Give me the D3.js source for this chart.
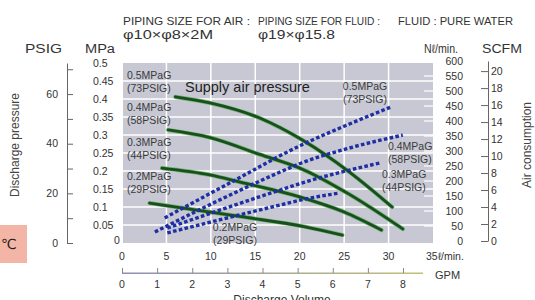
<!DOCTYPE html>
<html>
<head>
<meta charset="utf-8">
<script src="https://cdn.jsdelivr.net/npm/d3@7"></script>
<style>
  body { margin: 0; background: #fff; }
  svg { display: block; font-family: "Liberation Sans", Arial, sans-serif; }
</style>
</head>
<body>
<div id="chart"></div>
<script>
// supply air pressures (one green + one blue curve each)
let supplyMpa = ["0.5MPaG", "0.4MPaG", "0.3MPaG", "0.2MPaG"];
let supplyPsig = ["(73PSIG)", "(58PSIG)", "(44PSIG)", "(29PSIG)"];

// discharge pressure [flow l/min, MPa]
let discharge05 = [[6.0, 0.406], [9.9, 0.389], [15.5, 0.347], [20.3, 0.286], [25.6, 0.197], [30.4, 0.100]];
let discharge04 = [[5.2, 0.314], [9.9, 0.293], [15.5, 0.246], [20.3, 0.205], [25.6, 0.135], [31.6, 0.039]];
let discharge03 = [[4.5, 0.208], [9.9, 0.189], [13.3, 0.169], [20.0, 0.128], [25.0, 0.086], [29.2, 0.036]];
let discharge02 = [[3.1, 0.111], [8.8, 0.090], [14.0, 0.071], [20.6, 0.045], [24.8, 0.022]];

// air consumption [flow l/min, Nl/min]
let air05 = [[4.8, 77], [12.1, 193], [20.2, 320], [25.6, 390], [30.3, 447]];
let air04 = [[3.7, 30], [11.0, 137], [17.8, 230], [20.2, 260], [25.6, 310], [31.6, 353]];
let air03 = [[5.1, 43], [17.8, 170], [20.2, 193], [29.0, 260]];
let air02 = [[5.1, 27], [17.8, 120], [20.2, 137], [24.5, 160]];

let flowTicks = [0, 5, 10, 15, 20, 25, 30];
let gpmTicks = [0, 1, 2, 3, 4, 5, 6, 7, 8];
let psigTicks = [0, 10, 20, 30, 40, 50, 60, 70];
let psigLabels = [0, 20, 40, 60];
let scfmTicks = [0, 2, 4, 6, 8, 10, 12, 14, 16, 18, 20];
let nlTicks = d3.range(0, 601, 50);

let width = 535;
let height = 300;
let bgColor = "#c7c8d3";
let textColor = "#333";

let svg = d3.select("#chart")
    .append("svg")
    .attr("width", width)
    .attr("height", height);

// scales
let xScale = d3.scaleLinear().domain([0, 35]).range([122, 433]);
let yScale = d3.scaleLinear().domain([0, 0.5]).range([243, 63]);
let nlScale = d3.scaleLinear().domain([0, 600]).range([241, 61]);
let psigScale = d3.scaleLinear().domain([0, 0.5 * 145.04]).range([243, 63]);
let scfmScale = d3.scaleLinear().domain([0, 600 / 28.317]).range([241, 61]);
let gpmScale = d3.scaleLinear().domain([0, 8]).range([122, 403]);

// header texts
function headText(str, x, y, size, len) {
    svg.append("text")
        .attr("x", x).attr("y", y)
        .attr("font-size", size)
        .attr("fill", textColor)
        .attr("textLength", len)
        .attr("lengthAdjust", "spacingAndGlyphs")
        .text(str);
}
headText("PIPING SIZE FOR AIR :", 123, 25, 11, 127);
headText("PIPING SIZE FOR FLUID :", 258, 25, 11, 122);
headText("FLUID : PURE WATER", 398, 25, 11, 115);
headText("φ10×φ8×2M", 123, 39, 13, 90);
headText("φ19×φ15.8", 258, 39, 13, 77);
headText("PSIG", 25, 53, 12, 37);
headText("MPa", 85, 53, 12, 30);
headText("Nℓ/min.", 424, 53, 12, 34);
headText("SCFM", 482, 53, 12, 40);

// pink °C box
svg.append("rect")
    .attr("x", 0).attr("y", 225)
    .attr("width", 27).attr("height", 38)
    .attr("fill", "#f3b5a5");
svg.append("text")
    .attr("x", 1).attr("y", 249)
    .attr("font-size", 14)
    .attr("font-family", "'DejaVu Sans', sans-serif")
    .attr("fill", "#2a2020")
    .text("℃");

// plot background
svg.append("rect")
    .attr("x", xScale(0) + 1).attr("y", yScale(0.5))
    .attr("width", xScale(35) - xScale(0) - 1)
    .attr("height", yScale(0) - yScale(0.5))
    .attr("fill", bgColor);

// grid
svg.append("g").selectAll("line")
    .data(flowTicks.slice(1))
    .enter().append("line")
    .attr("x1", d => xScale(d)).attr("x2", d => xScale(d))
    .attr("y1", yScale(0.5)).attr("y2", yScale(0))
    .attr("stroke", "#fff").attr("stroke-width", 1.5);

svg.append("g").selectAll("line")
    .data(yScale.ticks(10).filter(d => d > 0 && d < 0.5))
    .enter().append("line")
    .attr("x1", xScale(0) + 1).attr("x2", xScale(35))
    .attr("y1", d => yScale(d)).attr("y2", d => yScale(d))
    .attr("stroke", "#fff").attr("stroke-width", 1.3);

// short inner ticks for Nl/min on right edge
svg.append("g").selectAll("line")
    .data(nlTicks.filter(d => d > 0 && d < 600))
    .enter().append("line")
    .attr("x1", xScale(35) - 9).attr("x2", xScale(35))
    .attr("y1", d => nlScale(d)).attr("y2", d => nlScale(d))
    .attr("stroke", "#fff").attr("stroke-width", 1.2);

// MPa labels
svg.append("g").selectAll("text")
    .data(yScale.ticks(10).filter(d => d > 0))
    .enter().append("text")
    .attr("x", 93).attr("y", d => yScale(d))
    .attr("dy", "0.35em")
    .attr("font-size", 10.5)
    .attr("fill", textColor)
    .text(d => +d.toFixed(2));
svg.append("text")
    .attr("x", 117).attr("y", yScale(0) + 1)
    .attr("text-anchor", "middle")
    .attr("font-size", 10.5)
    .attr("fill", textColor)
    .text("0");

// PSIG axis
let psigAxis = d3.axisRight(psigScale)
    .tickValues(psigTicks)
    .tickSize(6)
    .tickSizeOuter(0)
    .tickFormat("");
let psigG = svg.append("g")
    .attr("transform", "translate(67,0)")
    .call(psigAxis);
psigG.selectAll("path, line").attr("stroke", "#666");
svg.append("g").selectAll("text")
    .data(psigLabels)
    .enter().append("text")
    .attr("x", 58).attr("y", d => psigScale(d))
    .attr("dy", "0.35em")
    .attr("text-anchor", "end")
    .attr("font-size", 10.5)
    .attr("fill", textColor)
    .text(d => d);

// Nl/min labels
svg.append("g").selectAll("text")
    .data(nlTicks)
    .enter().append("text")
    .attr("x", 463).attr("y", d => nlScale(d))
    .attr("dy", "0.35em")
    .attr("text-anchor", "end")
    .attr("font-size", 10.5)
    .attr("fill", textColor)
    .text(d => d);

// SCFM axis
let scfmAxis = d3.axisLeft(scfmScale)
    .tickValues(scfmTicks)
    .tickSize(7)
    .tickSizeOuter(0)
    .tickFormat("");
let scfmG = svg.append("g")
    .attr("transform", "translate(488,0)")
    .call(scfmAxis);
scfmG.selectAll("path, line").attr("stroke", "#666");
svg.append("g").selectAll("text")
    .data(scfmTicks)
    .enter().append("text")
    .attr("x", 491).attr("y", d => scfmScale(d))
    .attr("dy", "0.35em")
    .attr("font-size", 10.5)
    .attr("fill", textColor)
    .text(d => d);

// rotated titles
svg.append("text")
    .attr("transform", "translate(19,145) rotate(-90)")
    .attr("text-anchor", "middle")
    .attr("font-size", 12)
    .attr("fill", "#444")
    .text("Discharge pressure");
svg.append("text")
    .attr("transform", "translate(531,145) rotate(-90)")
    .attr("text-anchor", "middle")
    .attr("font-size", 12)
    .attr("fill", "#444")
    .text("Air consumption");

// x axis labels (l/min)
svg.append("g").selectAll("text")
    .data(flowTicks)
    .enter().append("text")
    .attr("x", d => xScale(d)).attr("y", 256)
    .attr("dy", "0.35em")
    .attr("text-anchor", "middle")
    .attr("font-size", 10.5)
    .attr("fill", textColor)
    .text(d => d);
svg.append("text")
    .attr("x", xScale(35) - 7).attr("y", 256)
    .attr("dy", "0.35em")
    .attr("font-size", 10.5)
    .attr("fill", textColor)
    .text("35ℓ/min.");

// GPM axis
let grad = svg.append("defs").append("linearGradient")
    .attr("id", "gpmGrad");
grad.append("stop").attr("offset", "0%").attr("stop-color", "#8d90b2");
grad.append("stop").attr("offset", "100%").attr("stop-color", "#c2c07a");
svg.append("rect")
    .attr("x", gpmScale(0)).attr("y", 272.5)
    .attr("width", 423 - gpmScale(0)).attr("height", 1.5)
    .attr("fill", "url(#gpmGrad)");
let gpmAxis = d3.axisTop(gpmScale)
    .tickValues(gpmTicks)
    .tickSize(5)
    .tickSizeOuter(0)
    .tickFormat("");
let gpmG = svg.append("g")
    .attr("transform", "translate(0,273)")
    .call(gpmAxis);
gpmG.select(".domain").remove();
gpmG.selectAll("line").attr("stroke", "#888");
svg.append("g").selectAll("text")
    .data(gpmTicks)
    .enter().append("text")
    .attr("x", d => gpmScale(d)).attr("y", 284)
    .attr("dy", "0.35em")
    .attr("text-anchor", "middle")
    .attr("font-size", 10.5)
    .attr("fill", textColor)
    .text(d => d);
svg.append("text")
    .attr("x", 435).attr("y", 275)
    .attr("dy", "0.35em")
    .attr("font-size", 11)
    .attr("fill", textColor)
    .text("GPM");
svg.append("text")
    .attr("x", 282).attr("y", 304)
    .attr("text-anchor", "middle")
    .attr("font-size", 12)
    .attr("fill", textColor)
    .text("Discharge Volume");

// curves
let pressureLine = d3.line()
    .x(d => xScale(d[0]))
    .y(d => yScale(d[1]))
    .curve(d3.curveMonotoneX);
let airLine = d3.line()
    .x(d => xScale(d[0]))
    .y(d => nlScale(d[1]))
    .curve(d3.curveMonotoneX);

let dischargeSets = [discharge05, discharge04, discharge03, discharge02];
let airSets = [air05, air04, air03, air02];

dischargeSets.forEach(set => {
    svg.append("path")
        .attr("d", pressureLine(set))
        .attr("fill", "none")
        .attr("stroke", "#74b174")
        .attr("stroke-width", 4.2)
        .attr("stroke-linecap", "round");
    svg.append("path")
        .attr("d", pressureLine(set))
        .attr("fill", "none")
        .attr("stroke", "#174f1d")
        .attr("stroke-width", 2.8)
        .attr("stroke-linecap", "round");
});

airSets.forEach(set => {
    svg.append("path")
        .attr("d", airLine(set))
        .attr("fill", "none")
        .attr("stroke", "#1e2ea3")
        .attr("stroke-width", 3.4)
        .attr("stroke-dasharray", "3.6,2.3");
});

// curve labels
function pairLabel(i, x, y, anchor) {
    let g = svg.append("g")
        .attr("font-size", 10.5)
        .attr("fill", "#3a3a3a")
        .attr("text-anchor", anchor);
    g.append("text").attr("x", x).attr("y", y).attr("dy", "0.35em").text(supplyMpa[i]);
    g.append("text").attr("x", x).attr("y", y + 13).attr("dy", "0.35em").text(supplyPsig[i]);
}
// left side: discharge pressure curves
pairLabel(0, 127, 75, "start");
pairLabel(1, 127, 107, "start");
pairLabel(2, 127, 142, "start");
pairLabel(3, 127, 176, "start");
// air consumption curves
pairLabel(0, 365, 86, "middle");
pairLabel(1, 388, 146, "start");
pairLabel(2, 382, 174, "start");
pairLabel(3, 235, 227, "middle");

svg.append("text")
    .attr("x", 185).attr("y", 87)
    .attr("dy", "0.35em")
    .attr("font-size", 14.5)
    .attr("fill", "#222")
    .text("Supply air pressure");
</script>
</body>
</html>
